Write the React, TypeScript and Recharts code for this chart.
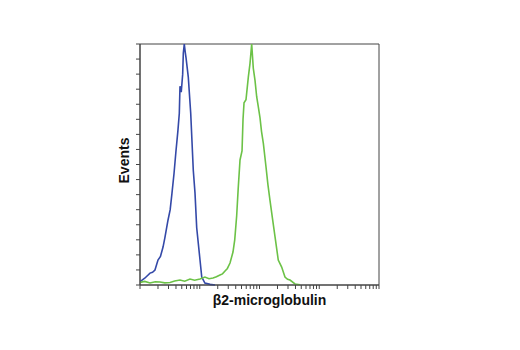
import { LineChart, Line, XAxis, YAxis, ReferenceArea } from "recharts";

// fluorescence intensity (log axis) vs events
const isotypeX = [1, 1.2, 1.47, 1.62, 1.78, 2.0, 2.2, 2.43, 2.62, 2.94, 3.2, 3.43, 3.71, 4.0, 4.3, 4.55, 4.67, 4.9, 5.18, 5.31, 5.51, 5.7, 5.89, 6.43, 7.06, 7.8, 8.33, 8.89, 10.1, 10.8, 12.2, 14.9, 18];
const isotypeY = [2.2, 4.5, 7.9, 8.4, 9.9, 16.6, 19, 25.2, 31.8, 43, 50, 61, 74, 89, 102, 114, 132, 128, 140, 154, 160, 155, 151, 138, 114, 76, 61, 38, 16.6, 5.3, 1.3, 0.4, 0];

const b2mX = [1, 1.2, 1.47, 1.8, 2.16, 2.6, 3.18, 3.8, 4.67, 5.6, 6.87, 8.2, 10.1, 12.2, 14.3, 16.7, 19, 21.8, 24, 26.5, 29, 32.1, 36, 38.5, 41.5, 44, 47.2, 51, 53, 55.1, 59.4, 65, 69.3, 74, 78.7, 84, 89.7, 95, 102, 108, 116, 128, 138, 150, 165, 182, 206, 235, 267, 295, 324, 393, 476];
const b2mY = [1.7, 2.4, 1.3, 2.2, 2.0, 1.4, 1.7, 2.6, 3.3, 2.5, 4.0, 3.2, 4.0, 5.3, 4.2, 4.6, 5.5, 6.6, 7.4, 9.3, 11, 14.6, 21.9, 30, 46, 64, 83, 89, 110, 121, 123, 138, 147, 160, 144, 136, 125, 119, 111, 102, 94, 79, 67, 56, 44, 32, 16.6, 11.9, 5.3, 3.8, 3.3, 0.7, 0.2];

const xTicks = [1, 2, 3, 4, 5, 6, 7, 8, 9, 10, 20, 30, 40, 50, 60, 70, 80, 90, 100, 200, 300, 400, 500, 600, 700, 800, 900, 1000, 2000, 3000, 4000, 5000, 6000, 7000, 8000, 9000, 10000];
const yTicks = [0, 10, 20, 30, 40, 50, 60, 70, 80, 90, 100, 110, 120, 130, 140, 150, 160];

const isotype = isotypeX.map((x, i) => ({ x, y: isotypeY[i] }));
const b2m = b2mX.map((x, i) => ({ x, y: b2mY[i] }));

const axisColor = "#444";
const font = "'Liberation Sans', Arial, sans-serif";

export default function App() {
  return (
    <div style={{ position: "absolute", left: 0, top: 0, width: 520, height: 350, background: "#fff" }}>
      <LineChart width={520} height={350} margin={{ top: 44, right: 141, left: 100, bottom: 25 }}>
        <XAxis
          dataKey="x"
          type="number"
          scale="log"
          domain={[1, 10000]}
          ticks={xTicks}
          interval={0}
          allowDataOverflow
          height={40}
          stroke={axisColor}
          tickSize={4}
          tick={() => <g />}
          label={{ value: "β2-microglobulin", position: "insideTop", offset: 10, dx: 10, fill: "#111", fontSize: 14, fontWeight: "bold", fontFamily: font }}
        />
        <YAxis
          type="number"
          domain={[0, 160]}
          ticks={yTicks}
          interval={0}
          width={40}
          stroke={axisColor}
          tickSize={4}
          tick={() => <g />}
          label={{ value: "Events", angle: -90, position: "center", dx: 4, dy: -4, fill: "#111", fontSize: 14, fontWeight: "bold", fontFamily: font }}
        />
        <ReferenceArea x1={1} x2={10000} y1={0} y2={160} fill="none" stroke={axisColor} strokeWidth={1} />
        <Line data={isotype} dataKey="y" type="linear" stroke="#3449a8" strokeWidth={1.6} dot={false} isAnimationActive={false} />
        <Line data={b2m} dataKey="y" type="linear" stroke="#6cc247" strokeWidth={1.6} dot={false} isAnimationActive={false} />
      </LineChart>
    </div>
  );
}
